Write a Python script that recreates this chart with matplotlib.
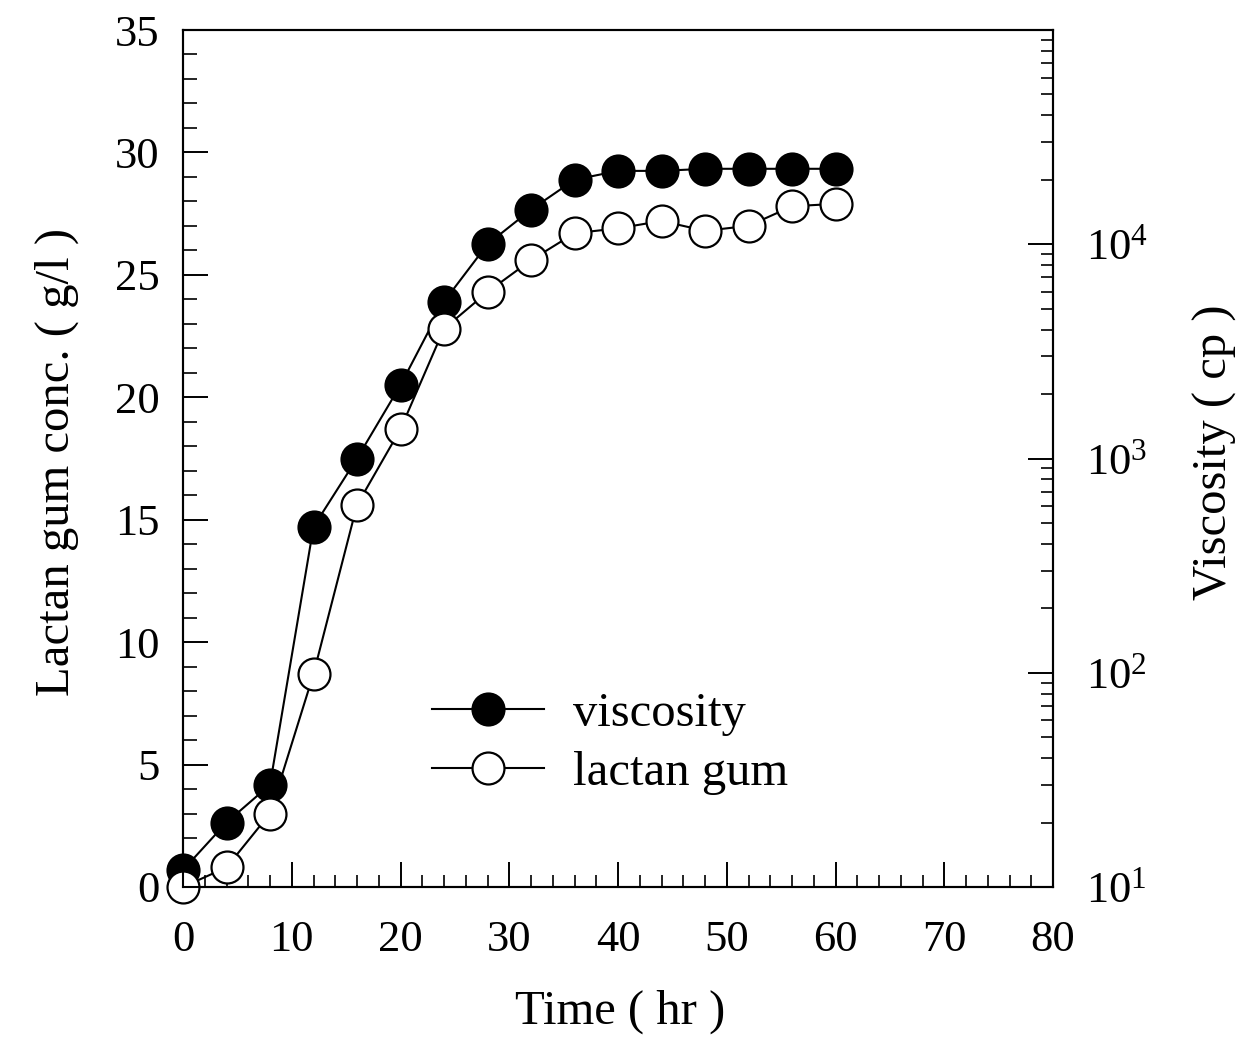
import numpy as np
import matplotlib
matplotlib.use("Agg")
import matplotlib.pyplot as plt
from matplotlib.ticker import MultipleLocator, LogLocator, LogFormatterMathtext, NullFormatter
from matplotlib.lines import Line2D

plt.rcParams['font.family'] = ['Liberation Serif', 'DejaVu Serif']
plt.rcParams['mathtext.fontset'] = 'custom'
plt.rcParams['mathtext.rm'] = 'Liberation Serif'
plt.rcParams['mathtext.it'] = 'Liberation Serif:italic'
plt.rcParams['mathtext.bf'] = 'Liberation Serif:bold'

# Data
time_hr = [0, 4, 8, 12, 16, 20, 24, 28, 32, 36, 40, 44, 48, 52, 56, 60]
viscosity_cp = [12, 20, 30, 480, 1000, 2200, 5400, 10000, 14500, 20000,
                22000, 22000, 22500, 22500, 22500, 22500]
lactan_gum = [0.0, 0.8, 3.0, 8.7, 15.6, 18.7, 22.8, 24.3, 25.6, 26.7,
              26.9, 27.2, 26.8, 27.0, 27.8, 27.9]

x_ticks = [0, 10, 20, 30, 40, 50, 60, 70, 80]
y_ticks = [0, 5, 10, 15, 20, 25, 30, 35]
visc_ticks = [10, 100, 1000, 10000]

W, H = 1258, 1046
fig = plt.figure(figsize=(W / 100, H / 100), dpi=100)
L, R, T, B = 183, 1053, 30, 887
ax = fig.add_axes([L / W, 1 - B / H, (R - L) / W, (B - T) / H])
ax2 = ax.twinx()
ax.set_zorder(ax2.get_zorder() + 1)
ax.patch.set_visible(False)

ms = 23
lw = 1.5
mew = 1.6

# viscosity on right log axis
ax2.set_yscale('log')
ax2.plot(time_hr, viscosity_cp, '-', color='black', lw=lw, marker='o', ms=ms,
         mfc='black', mec='black', mew=mew, clip_on=False)

# lactan gum on left axis
ax.plot(time_hr, lactan_gum, '-', color='black', lw=lw, marker='o', ms=ms,
        mfc='white', mec='black', mew=mew, clip_on=False)

ax.set_xlim(0, 80)
ax.set_ylim(0, 35)
ax.set_xticks(x_ticks)
ax.set_yticks(y_ticks)
ax.xaxis.set_minor_locator(MultipleLocator(2))
ax.yaxis.set_minor_locator(MultipleLocator(1))

ax.tick_params(axis='x', which='both', direction='in', top=False, bottom=True,
               labelsize=32, pad=24)
ax.tick_params(axis='x', which='major', length=18, width=1.4)
ax.tick_params(axis='x', which='minor', length=9, width=1.2)
ax.tick_params(axis='y', which='both', direction='in', left=True, right=False,
               labelsize=32, pad=17)
ax.tick_params(axis='y', which='major', length=18, width=1.4)
ax.tick_params(axis='y', which='minor', length=10, width=1.2)

ax2.set_yticks(visc_ticks)
ax2.yaxis.set_major_formatter(LogFormatterMathtext())
ax2.yaxis.set_minor_locator(LogLocator(base=10, subs=np.arange(2, 10), numticks=20))
ax2.yaxis.set_minor_formatter(NullFormatter())
ax2.set_ylim(10, 1e5)
ax2.tick_params(axis='y', which='both', direction='in', right=True, left=False,
                labelsize=32, pad=24)
ax2.tick_params(axis='y', which='major', length=18, width=1.4)
ax2.tick_params(axis='y', which='minor', length=9, width=1.2)

for a in (ax, ax2):
    for s in a.spines.values():
        s.set_linewidth(1.5)

fig.text(620 / W, 1 - 1012 / H, 'Time ( hr )', ha='center', va='center', fontsize=35)
fig.text(57 / W, 1 - 462 / H, 'Lactan gum conc. ( g/l )', ha='center', va='center',
         rotation=90, fontsize=35)
fig.text(1215 / W, 1 - 452 / H, 'Viscosity ( cp )', ha='center', va='center',
         rotation=90, fontsize=35)

handles = [
    Line2D([], [], color='black', lw=lw, marker='o', ms=ms, mfc='black', mec='black', mew=mew),
    Line2D([], [], color='black', lw=lw, marker='o', ms=ms, mfc='white', mec='black', mew=mew),
]
ax.legend(handles, ['viscosity', 'lactan gum'], loc='upper left',
          bbox_to_anchor=(432 / W, 1 - 692 / H), bbox_transform=fig.transFigure,
          frameon=False, fontsize=35, handlelength=2.3, handletextpad=0.6,
          borderpad=0, borderaxespad=0, labelspacing=0.3)

fig.savefig('out.png', dpi=100)
